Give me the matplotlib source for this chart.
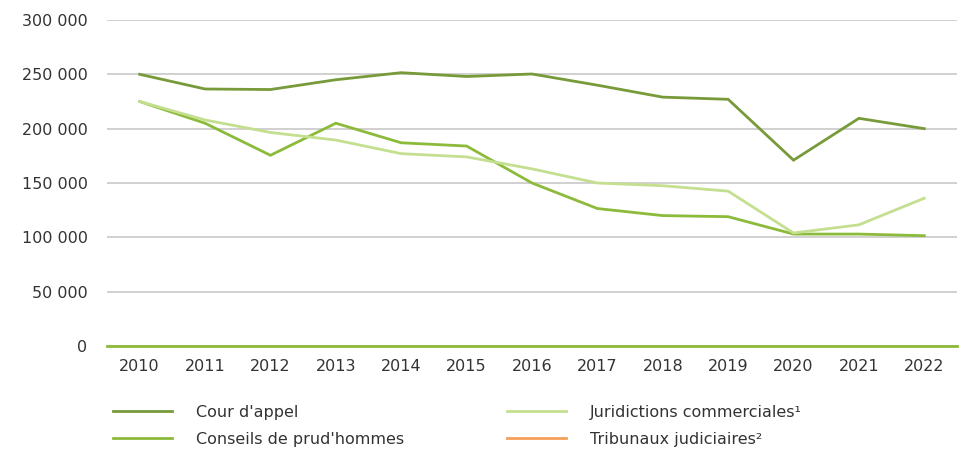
import numpy as np
import matplotlib.pyplot as plt
from matplotlib.ticker import FuncFormatter

plt.rcParams.update({
    'font.family': 'DejaVu Sans',
    'font.size': 11,
    'text.color': '#333333',
    'xtick.color': '#333333',
    'ytick.color': '#333333',
})

# ---------------------------------------------------------------------
# Data
# ---------------------------------------------------------------------
years = [2010, 2011, 2012, 2013, 2014, 2015, 2016, 2017, 2018, 2019, 2020, 2021, 2022]

cour_appel = [250000, 236500, 236000, 245000, 251500, 248000, 250300, 240000,
              229000, 227000, 171000, 209500, 200000]
conseils_prudhommes = [225000, 205000, 175500, 205000, 187000, 184000, 150000,
                       126500, 120000, 119000, 103000, 103000, 101500]
juridictions_commerciales = [225000, 208000, 196500, 189500, 177000, 174000, 163000,
                             150000, 147500, 142500, 104000, 111500, 136000]
tribunaux_judiciaires = [np.nan] * len(years)

series_labels = ["Cour d'appel", "Conseils de prud'hommes",
                 "Juridictions commerciales\u00b9", "Tribunaux judiciaires\u00b2"]
series_colors = ['#779a3a', '#8cba3a', '#c4df8f', '#f5a05a']
y_ticks = [0, 50000, 100000, 150000, 200000, 250000, 300000]

# ---------------------------------------------------------------------
# Figure
# ---------------------------------------------------------------------
fig = plt.figure(figsize=(9.69, 4.51), dpi=100)
ax = fig.add_axes([0.1104, 0.2328, 0.8772, 0.7229])

all_series = [cour_appel, conseils_prudhommes, juridictions_commerciales, tribunaux_judiciaires]
handles = []
for vals, lab, col in zip(all_series, series_labels, series_colors):
    h, = ax.plot(years, vals, color=col, lw=2.0, label=lab, solid_joinstyle='miter', zorder=3)
    handles.append(h)

ax.set_xlim(years[0] - 0.5, years[-1] + 0.5)
ax.set_ylim(0, 300000)
ax.set_xticks(years)
ax.set_yticks(y_ticks)
ax.yaxis.set_major_formatter(FuncFormatter(lambda v, p: f"{int(v):,}".replace(",", " ")))
ax.tick_params(axis='both', length=0, labelsize=11.5)
ax.tick_params(axis='y', pad=14)
ax.tick_params(axis='x', pad=9)

ax.grid(axis='y', color='#c8c8c8', lw=1.2, zorder=0)
for s in ['top', 'right', 'left']:
    ax.spines[s].set_visible(False)
ax.spines['bottom'].set_color('#8cba3a')
ax.spines['bottom'].set_linewidth(2.0)
ax.spines['bottom'].set_zorder(4)

fig.legend(handles=handles, ncol=2, loc='upper left', bbox_to_anchor=(0.117, 0.103),
           frameon=False, fontsize=11.5, handlelength=3.7, handletextpad=1.5,
           columnspacing=6.4, labelspacing=0.75, borderaxespad=0, borderpad=0)

plt.savefig("out.png", dpi=100)
